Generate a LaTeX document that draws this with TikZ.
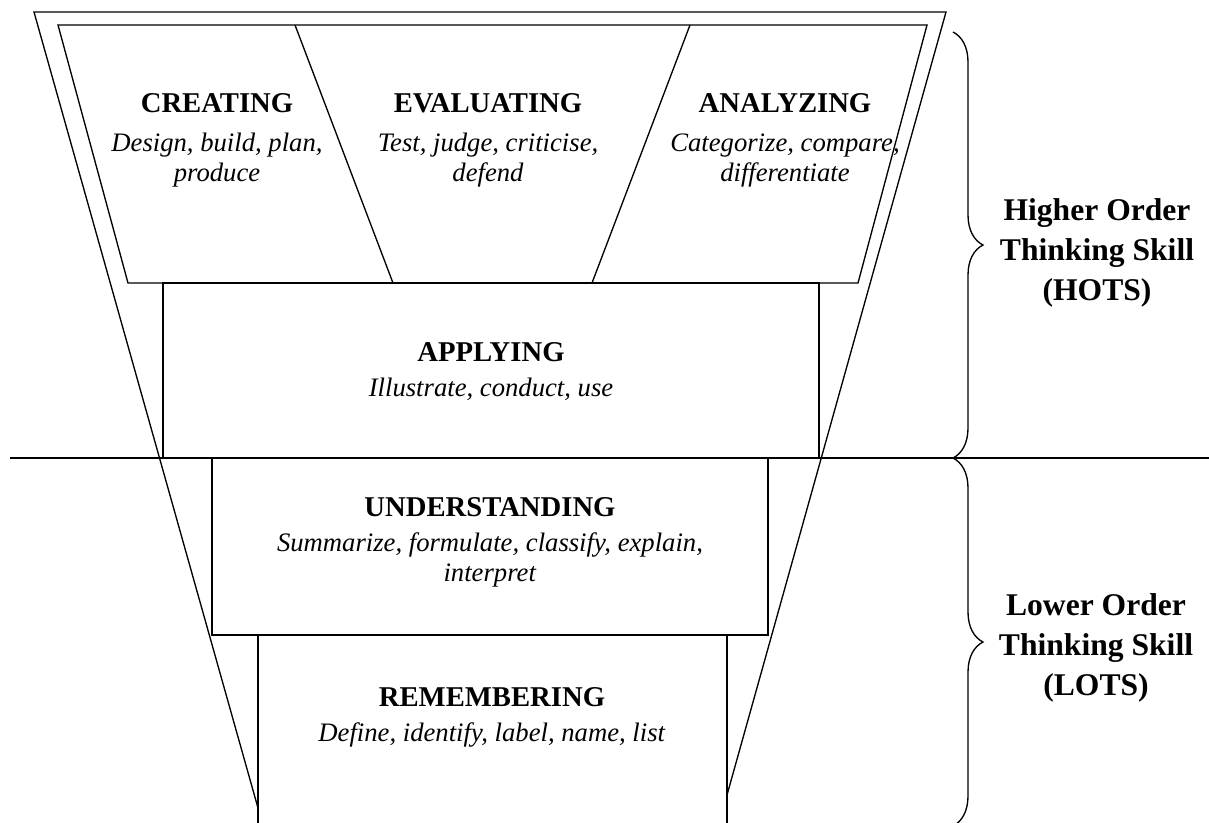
\documentclass[tikz,border=0pt]{standalone}
\usepackage{fontspec}
\setmainfont{Liberation Serif}
\usetikzlibrary{decorations.pathreplacing,positioning}

\tikzset{
  frame/.style={line width=1pt},
  level/.style={align=center, inner sep=0pt, anchor=north, font=\fontsize{20}{22.5}\selectfont},
  skill/.style={align=center, inner sep=0pt, anchor=north, font=\bfseries\fontsize{23.7}{30}\selectfont},
  curly/.style={decorate, decoration={brace, amplitude=22.5pt}, line width=1pt}
}
\newcommand{\head}[2][3.75pt]{{\bfseries\fontsize{21.5}{22.5}\selectfont #2}\\[#1]}

\begin{document}
\begin{tikzpicture}[x=0.75pt, y=-0.75pt]
  \useasboundingbox (0,0) rectangle (1209,822);
  % funnel outline
  \draw[frame] (258,808) -- (34,12) -- (946,12) -- (727,795);
  % top band, three slanted cells
  \draw[frame] (58,25) -- (927,25) -- (858,283) -- (128,283) -- cycle;
  \draw[frame] (295,25) -- (393,283);
  \draw[frame] (690,25) -- (592,283);
  % lower boxes
  \draw[frame] (163,283) rectangle (819,458);
  \draw[frame] (212,458) rectangle (768,635);
  \draw[frame] (258,850) -- (258,635) -- (727,635) -- (727,850);
  % split between HOTS and LOTS
  \draw[frame] (10,458) -- (1209,458);

  \node[level] (creating) at (217,93) {\head[6.75pt]{CREATING}\textit{Design, build, plan,}\\\textit{produce}};
  \node[level] (evaluating) at (488,93) {\head[6.75pt]{EVALUATING}\textit{Test, judge, criticise,}\\\textit{defend}};
  \node[level] (analyzing) at (785,93) {\head[6.75pt]{ANALYZING}\textit{Categorize, compare,}\\\textit{differentiate}};
  \node[level] (applying) at (491,342) {\head{APPLYING}\textit{Illustrate, conduct, use}};
  \node[level] (understanding) at (490,497) {\head{UNDERSTANDING}\textit{Summarize, formulate, classify, explain,}\\\textit{interpret}};
  \node[level] (remembering) at (492,687) {\head{REMEMBERING}\textit{Define, identify, label, name, list}};

  % braces
  \coordinate (hotstop) at (953,32);
  \coordinate (split) at (953,458);
  \coordinate (lotsend) at (953,826);
  \draw[curly] (hotstop) -- (split);
  \draw[curly] (split) -- (lotsend);
  \node[skill] (hots) at (1097,198) {Higher Order\\Thinking Skill\\(HOTS)};
  \node[skill] (lots) at (1096,593) {Lower Order\\Thinking Skill\\(LOTS)};
\end{tikzpicture}
\end{document}
